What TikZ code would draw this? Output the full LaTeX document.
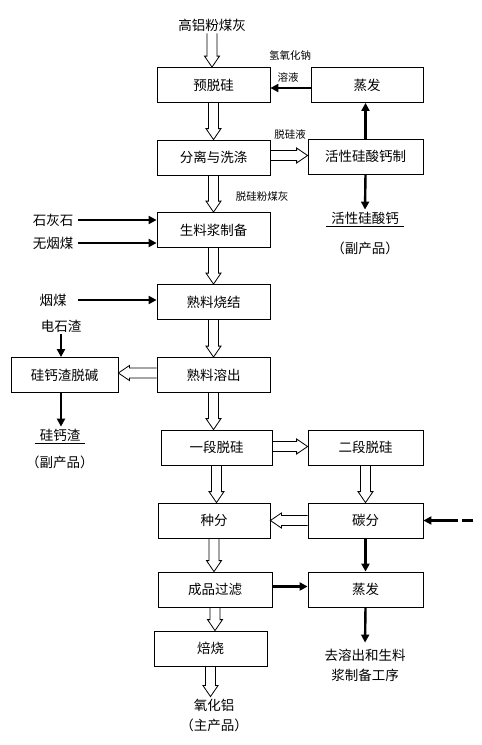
\documentclass[tikz,border=0pt]{standalone}
\usepackage{fontspec}
\setmainfont{Noto Sans CJK SC}
\usetikzlibrary{arrows.meta,calc}
\begin{document}
\begin{tikzpicture}[x=1pt, y=-1pt,
    box/.style={draw, line width=0.8pt, minimum width=113pt, minimum height=35pt, inner sep=2pt, font=\fontsize{13.5}{15}\selectfont},
    txt/.style={inner sep=2pt, font=\fontsize{13.5}{15}\selectfont},
    small/.style={inner sep=1pt, font=\fontsize{10.5}{12}\selectfont},
    feed/.style={-{Triangle[length=8pt,width=8pt]}, line width=2.4pt},
    hollow/.style={line width=0.8pt, to path={
        let \p1=(\tikztostart), \p2=(\tikztotarget),
            \n1={veclen(\x2-\x1,\y2-\y1)},
            \n2={(\x2-\x1)/\n1}, \n3={(\y2-\y1)/\n1}
        in ({\x1-5pt*(\n3)},{\y1+5pt*(\n2)})
        -- ({\x2-11pt*(\n2)-5pt*(\n3)},{\y2-11pt*(\n3)+5pt*(\n2)})
        -- ({\x2-11pt*(\n2)-7.5pt*(\n3)},{\y2-11pt*(\n3)+7.5pt*(\n2)})
        -- (\p2)
        -- ({\x2-11pt*(\n2)+7.5pt*(\n3)},{\y2-11pt*(\n3)-7.5pt*(\n2)})
        -- ({\x2-11pt*(\n2)+5pt*(\n3)},{\y2-11pt*(\n3)-5pt*(\n2)})
        -- ({\x1+5pt*(\n3)},{\y1-5pt*(\n2)})}}]
        \path[use as bounding box, fill=white] (0,0) rectangle (482,745);

        \node[txt] (gaolv) at (212,25) {高铝粉煤灰};
        \node[box] (yutuo) at (213.5,85) {预脱硅};
        \node[box, minimum width=112pt] (zhengfa) at (367,85) {蒸发};
        \node[small] (naoh) at (290,55) {氢氧化钠};
        \node[small] (rongye) at (288,77) {溶液};

        \node[box] (fenli) at (213.5,157.5) {分离与洗涤};
        \node[box, minimum width=115pt] (zhiqu) at (365.5,156.5) {活性硅酸钙制};
        \node[small] (tuoguiye) at (290,134) {脱硅液};
        \node[txt] (gsg) at (365,218) {活性硅酸钙};
        \node[txt] (fcp1) at (365,248) {（副产品）};
        \node[small] (tgfmh) at (262,196) {脱硅粉煤灰};

        \node[box] (shengliao) at (213.5,230) {生料浆制备};
        \node[txt] (shihui) at (53,220) {石灰石};
        \node[txt] (wuyan) at (53,243) {无烟煤};
        \node[box] (shaojie) at (213.5,302) {熟料烧结};
        \node[txt] (yanmei) at (53,300) {烟煤};
        \node[txt] (dianshi) at (61,326) {电石渣};
        \node[box, minimum width=107pt] (tuojian) at (64.5,375) {硅钙渣脱碱};
        \node[box] (rongchu) at (213.5,375) {熟料溶出};
        \node[txt] (guigaizha) at (60,435) {硅钙渣};
        \node[txt] (fcp2) at (60,462) {（副产品）};

        \node[box, minimum width=111pt] (yiduan) at (216.5,447.5) {一段脱硅};
        \node[box, minimum width=115pt] (erduan) at (365.5,447.5) {二段脱硅};
        \node[box, minimum width=112pt] (zhongfen) at (214,520.5) {种分};
        \node[box, minimum width=115pt] (tanfen) at (365.5,520.5) {碳分};
        \coordinate (co2) at (473,520.5);
        \node[box, minimum width=114pt] (guolv) at (215,589.5) {成品过滤};
        \node[box, minimum width=115pt] (zhengfa2) at (365.5,589.5) {蒸发};
        \node[box] (beishao) at (210.5,648.5) {焙烧};
        \node[txt] (yanghualv) at (214,705) {氧化铝};
        \node[txt] (zcp) at (214,725) {（主产品）};
        \node[txt] (qurongchu) at (365,655) {去溶出和生料};
        \node[txt] (jiangzhibei) at (365,675) {浆制备工序};

        \draw[line width=0.8pt] ([xshift=-3pt]gsg.south west) -- ([xshift=3pt]gsg.south east);
        \draw[line width=0.8pt] ([xshift=-3pt]guigaizha.south west) -- ([xshift=3pt]guigaizha.south east);

        \draw[hollow] (gaolv.south) to (gaolv.south |- yutuo.north);
        \draw[hollow] (yutuo.south) to (fenli.north);
        \draw[hollow] ([yshift=2pt]fenli.east) to ([yshift=2pt]fenli.east -| zhiqu.west);
        \draw[hollow] (fenli.south) to (shengliao.north);
        \draw[hollow] (shengliao.south) to (shaojie.north);
        \draw[hollow] (shaojie.south) to (rongchu.north);
        \draw[hollow] ([yshift=2pt]rongchu.west) to ([yshift=2pt]tuojian.east);
        \draw[hollow] (rongchu.south) to (rongchu.south |- yiduan.north);
        \draw[hollow] ([yshift=1pt]yiduan.east) to ([yshift=1pt]erduan.west);
        \draw[hollow] (yiduan.south) to (yiduan.south |- zhongfen.north);
        \draw[hollow] (erduan.south) to (tanfen.north);
        \draw[hollow] (tanfen.west) to (zhongfen.east);
        \draw[hollow] (zhongfen.south) to (zhongfen.south |- guolv.north);
        \draw[hollow] (guolv.south) to (guolv.south |- beishao.north);
        \draw[hollow] (beishao.south) to (beishao.south |- yanghualv.north);

        \draw[feed] ([yshift=-3pt]zhengfa.west) -- ([yshift=-3pt]zhengfa.west -| yutuo.east);
        \draw[feed] (zhiqu.north) -- (zhiqu.north |- zhengfa.south);
        \draw[feed] (zhiqu.south) -- (gsg.north);
        \draw[feed, shorten <=3pt] (shihui.east) -- (shihui.east -| shengliao.west);
        \draw[feed, shorten <=3pt] (wuyan.east) -- (wuyan.east -| shengliao.west);
        \draw[feed, shorten <=3pt] (yanmei.east -| shihui.east) -- (yanmei.east -| shaojie.west);
        \draw[feed] (dianshi.south) -- (dianshi.south |- tuojian.north);
        \draw[feed] (tuojian.south -| dianshi.south) -- (dianshi.south |- guigaizha.north);
        \draw[feed, dash pattern=on 11pt off 4pt on 80pt] (co2) -- (tanfen.east);
        \draw[feed] (tanfen.south) -- (zhengfa2.north);
        \draw[feed] ([yshift=3pt]guolv.east) -- ([yshift=3pt]guolv.east -| zhengfa2.west);
        \draw[feed, shorten >=4pt] (zhengfa2.south) -- (qurongchu.north);
    \end{tikzpicture}
\end{document}
